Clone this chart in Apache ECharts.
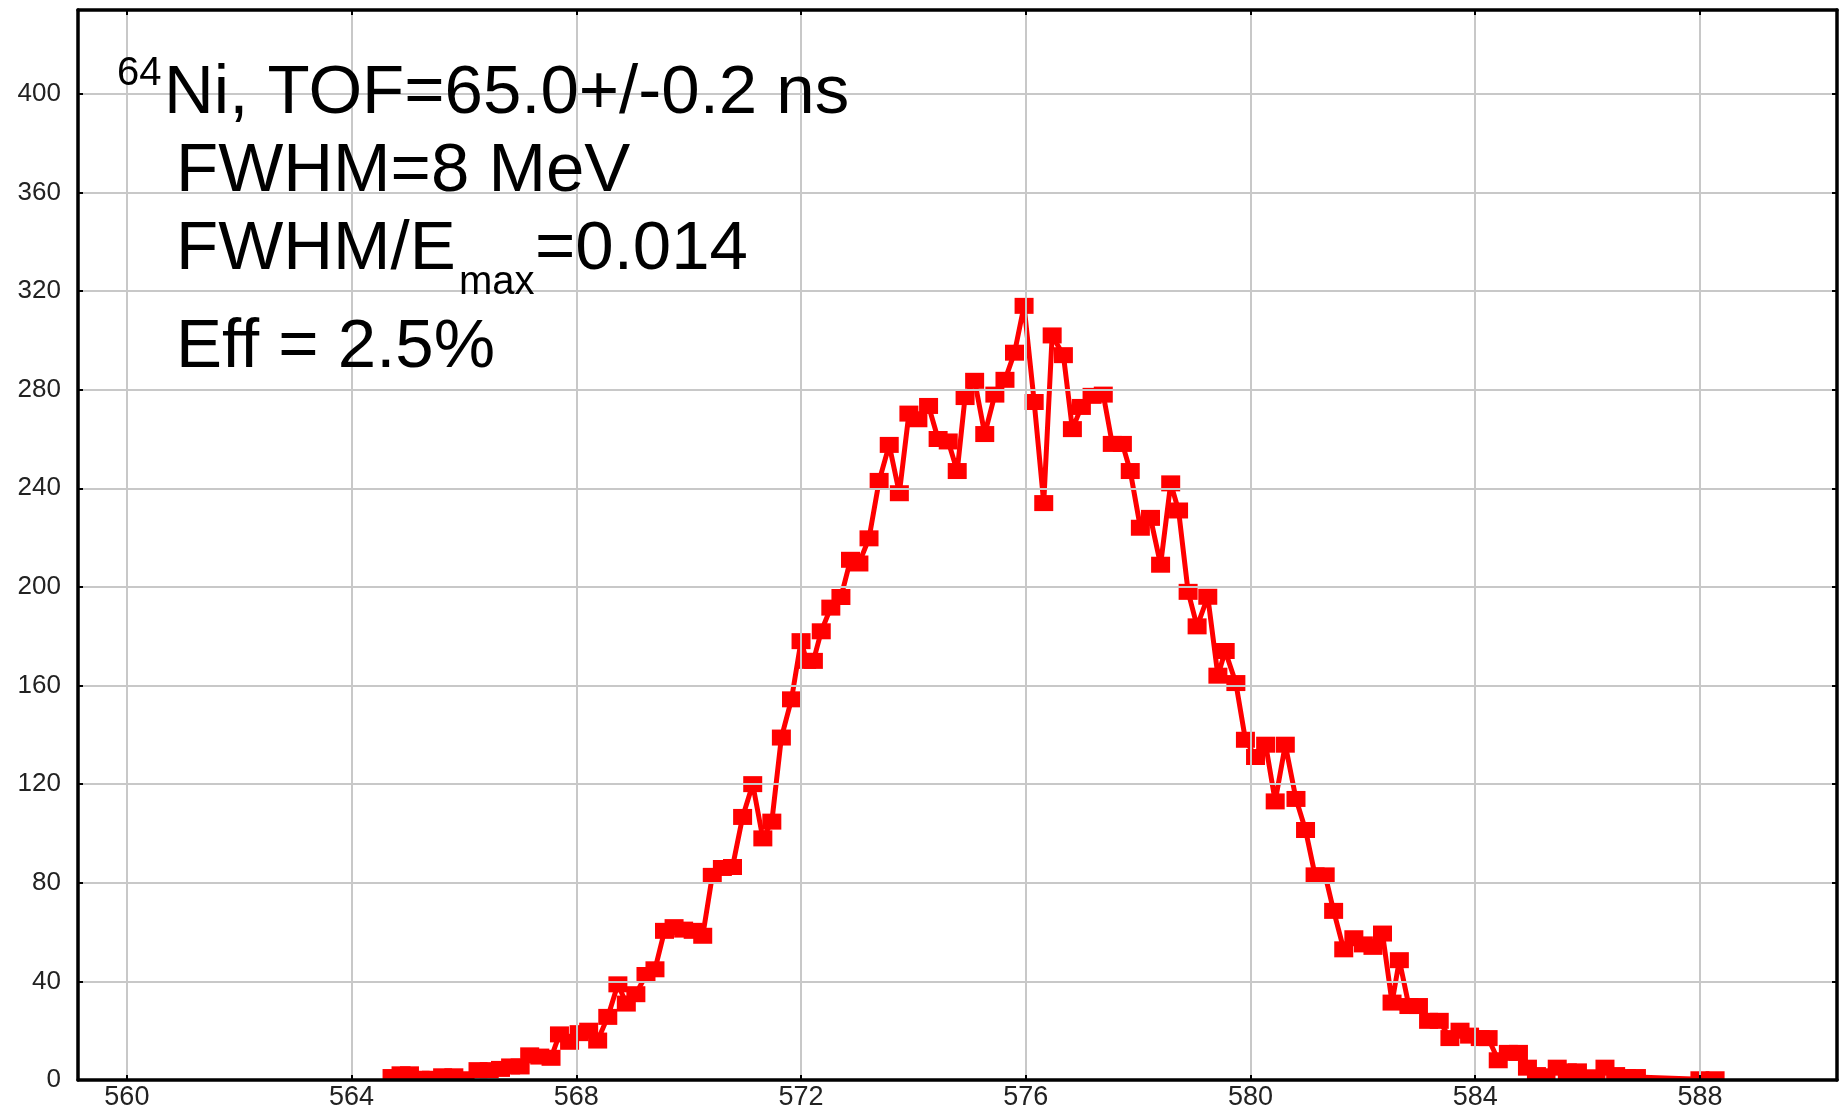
<!DOCTYPE html>
<html><head><meta charset="utf-8">
<script src="https://cdn.jsdelivr.net/npm/echarts@6/dist/echarts.min.js"></script>
<style>html,body{margin:0;padding:0;background:#fff}#c{width:1841px;height:1111px}</style>
</head><body><div id="c"></div>
<script>
// Energy (MeV) of each plotted bin
const energies = [
  564.72, 564.88, 565.03, 565.22, 565.42, 565.62, 565.82, 566.02, 566.25, 566.45,
  566.65, 566.83, 567.00, 567.17, 567.35, 567.55, 567.70, 567.88, 568.05, 568.22,
  568.38, 568.56, 568.74, 568.89, 569.06, 569.24, 569.40, 569.57, 569.74, 569.91,
  570.08, 570.25, 570.42, 570.60, 570.78, 570.96, 571.14, 571.32, 571.48, 571.65,
  571.83, 572.00, 572.10, 572.22, 572.36, 572.53, 572.71, 572.88, 573.03, 573.21,
  573.39, 573.57, 573.75, 573.92, 574.08, 574.27, 574.44, 574.62, 574.78, 574.92,
  575.09, 575.27, 575.45, 575.63, 575.80, 575.97, 576.15, 576.32, 576.47, 576.67,
  576.83, 576.99, 577.18, 577.38, 577.54, 577.72, 577.86, 578.04, 578.22, 578.40,
  578.58, 578.72, 578.89, 579.05, 579.24, 579.42, 579.55, 579.74, 579.91, 580.09,
  580.27, 580.44, 580.62, 580.81, 580.98, 581.15, 581.33, 581.48, 581.66, 581.84,
  582.01, 582.18, 582.35, 582.52, 582.65, 582.82, 582.99, 583.17, 583.36, 583.55,
  583.73, 583.90, 584.09, 584.23, 584.41, 584.59, 584.77, 584.93, 585.09, 585.26,
  585.46, 585.64, 585.82, 586.00, 586.15, 586.31, 586.50, 586.69, 586.87, 588.00,
  588.27
];
// Counts of each bin
const counts = [
  1.2, 2.3, 2.3, 0.5, 0.5, 1.5, 1.5, 0.3, 4, 4,
  4.5, 5.5, 5.5, 10, 9.5, 9, 18.5, 15.5, 19, 20,
  16, 25.6, 38.8, 31, 34.8, 42.6, 44.9, 60.5, 62, 61,
  60.5, 58.5, 82.8, 86, 86.4, 106.7, 120, 98, 104.8, 138.9,
  154.4, 178, 170, 170, 182, 191.6, 195.9, 211, 209.5, 219.7,
  243, 257.6, 238, 270.3, 268, 273.4, 260, 259, 247, 277,
  283.6, 262, 278, 284, 295, 314, 275, 234, 302, 294,
  264, 273, 277.5, 278, 258, 258, 247, 224, 228, 209,
  242, 231, 198, 184, 196, 164, 174, 161, 138, 131,
  136, 113, 136, 114, 101.4, 83, 83, 68.6, 53, 57.5,
  55, 54, 59.4, 31.4, 48.6, 30, 30, 24, 24, 17,
  20, 18, 17, 17, 8, 11, 11, 5, 2, 1.5,
  5, 3.5, 3.5, 1, 1, 5, 2, 1.2, 1.2, 0.3,
  0.3
];
const xTickLabels = [560, 564, 568, 572, 576, 580, 584, 588];
const yTickLabels = [0, 40, 80, 120, 160, 200, 240, 280, 320, 360, 400];

const FONT = "'Liberation Sans', Arial, sans-serif";
const points = energies.map((e, i) => [e, counts[i]]);

const chart = echarts.init(document.getElementById('c'), null, {renderer: 'canvas'});
const xBase = {
  type: 'value', min: 559.13, max: 590.44, minInterval: 4, maxInterval: 4, splitNumber: 8
};
const yBase = { type: 'value', min: 0, max: 434, interval: 40 };
const frameLine = { show: true, onZero: false, lineStyle: { color: '#000', width: 3.5 } };
const tick = { show: true, inside: true, length: 5, lineStyle: { color: '#000', width: 2 } };

chart.setOption({
  animation: false,
  backgroundColor: '#fff',
  grid: { left: 78, right: 4, top: 10, bottom: 31, containLabel: false },
  xAxis: [
    Object.assign({}, xBase, {
      position: 'bottom', z: 3,
      axisLine: frameLine, axisTick: tick,
      axisLabel: {
        show: true, fontFamily: FONT, fontSize: 27, color: '#222', margin: 4,
        formatter: v => xTickLabels.indexOf(Math.round(v * 1000) / 1000) >= 0 ? String(v) : ''
      },
      splitLine: { show: true, lineStyle: { color: '#c8c8c8', width: 2 } }
    }),
    Object.assign({}, xBase, {
      position: 'top', z: 3,
      axisLine: frameLine, axisTick: tick,
      axisLabel: { show: false }, splitLine: { show: false }
    })
  ],
  yAxis: [
    Object.assign({}, yBase, {
      position: 'left', z: 3,
      axisLine: frameLine, axisTick: tick,
      axisLabel: {
        show: true, fontFamily: FONT, fontSize: 26, color: '#222', margin: 17,
        formatter: v => yTickLabels.indexOf(v) >= 0 ? String(v) : ''
      },
      splitLine: { show: true, lineStyle: { color: '#c8c8c8', width: 2 } }
    }),
    Object.assign({}, yBase, {
      position: 'right', z: 3,
      axisLine: frameLine, axisTick: tick,
      axisLabel: { show: false }, splitLine: { show: false }
    })
  ],
  series: [{
    type: 'line',
    xAxisIndex: 0, yAxisIndex: 0,
    data: points,
    showAllSymbol: true,
    symbol: 'rect',
    symbolSize: [19, 16],
    lineStyle: { color: '#ff0000', width: 5 },
    itemStyle: { color: '#ff0000' },
    z: 2
  }],
  graphic: [
    { type: 'rect', left: 80, top: 1081, z: 2.5,
      shape: { width: 1755, height: 10 }, style: { fill: '#fff' } },
    { type: 'text', left: 117, top: 54, z: 10,
      style: { text: '64', font: '40px ' + FONT, fill: '#000' } },
    { type: 'text', left: 164, top: 59, z: 10,
      style: { text: 'Ni, TOF=65.0+/-0.2 ns', font: '69px ' + FONT, fill: '#000' } },
    { type: 'text', left: 176, top: 137, z: 10,
      style: { text: 'FWHM=8 MeV', font: '69px ' + FONT, fill: '#000' } },
    { type: 'text', left: 176, top: 215, z: 10,
      style: { text: 'FWHM/E', font: '69px ' + FONT, fill: '#000' } },
    { type: 'text', left: 459, top: 263, z: 10,
      style: { text: 'max', font: '40px ' + FONT, fill: '#000' } },
    { type: 'text', left: 535, top: 215, z: 10,
      style: { text: '=0.014', font: '69px ' + FONT, fill: '#000' } },
    { type: 'text', left: 176, top: 313, z: 10,
      style: { text: 'Eff = 2.5%', font: '69px ' + FONT, fill: '#000' } }
  ]
});
</script></body></html>
